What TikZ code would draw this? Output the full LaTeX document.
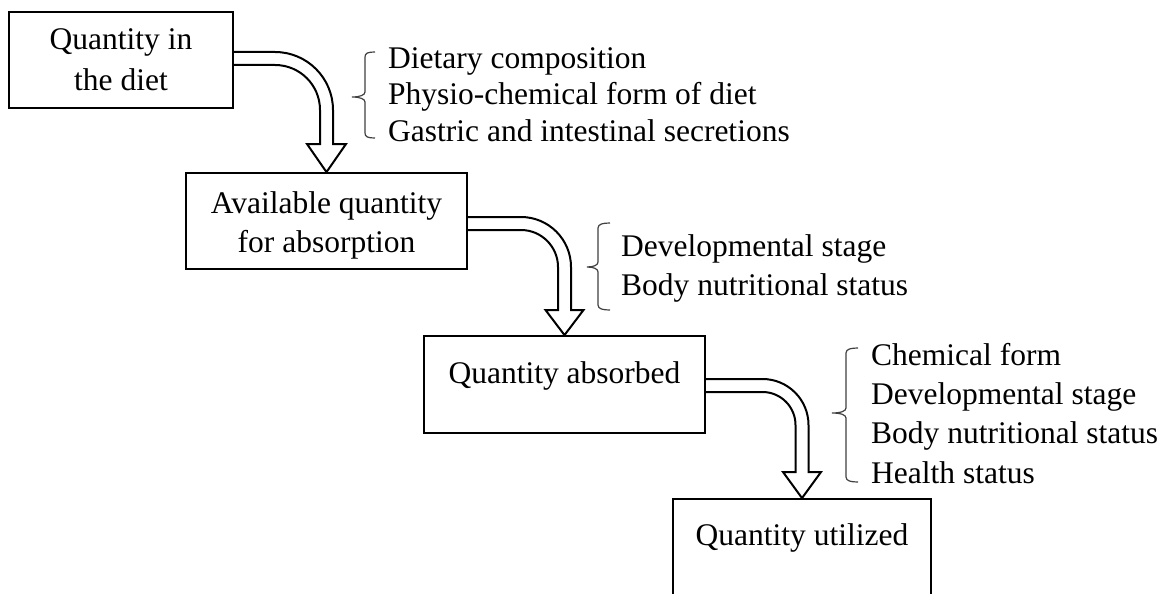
\documentclass[tikz,border=0pt]{standalone}
\usepackage{fontspec}
\setmainfont{Liberation Serif}
\begin{document}
\begin{tikzpicture}[x=1pt,y=-1pt,
  box/.style={draw=black,line width=1.8pt,inner sep=0pt},
  txt/.style={anchor=base,inner sep=0pt,font=\fontsize{31.5}{39}\selectfont},
  ltxt/.style={anchor=base west,inner sep=0pt,font=\fontsize{31.5}{39}\selectfont},
  harrow/.style={draw=black,line width=2pt,line join=miter},
  brc/.style={draw=black!75,line width=1.2pt}]
\fill[white] (0,0) rectangle (1175,594);
\useasboundingbox (0,0) rectangle (1175,594);
\clip (0,0) rectangle (1175,594);
% boxes
\node[box,minimum width=224pt,minimum height=96pt] (b1) at (121,60) {};
\node[box,minimum width=281pt,minimum height=96pt] (b2) at (326.5,221) {};
\node[box,minimum width=281pt,minimum height=97pt] (b3) at (564.5,384.5) {};
\node[box,minimum width=258pt,minimum height=141pt] (b4) at (802,569.5) {};
% box texts
\node[txt] (t1a) at (121,50) {Quantity in};
\node[txt] (t1b) at (121,90) {the diet};
\node[txt] (t2a) at (326.5,213) {Available quantity};
\node[txt] (t2b) at (326.5,252) {for absorption};
\node[txt] (t3) at (564.5,383) {Quantity absorbed};
\node[txt] (t4) at (802,545) {Quantity utilized};
% hollow arrows
\draw[harrow] (b1.east |- 0,52) -- (275,52) .. controls (307,52) and (333,78) .. (333,110)
  -- (333,144) -- (346,144) -- (b2.north) -- (307,144) -- (320,144) -- (320,110)
  .. controls (320,85.1) and (299.9,65) .. (275,65) -- (b1.east |- 0,65);
\draw[harrow] (b2.east |- 0,217) -- (521,217) .. controls (548.6,217) and (571,239.4) .. (571,267)
  -- (571,310) -- (583.5,310) -- (b3.north) -- (545.5,310) -- (558,310) -- (558,267)
  .. controls (558,246.6) and (541.4,230) .. (521,230) -- (b2.east |- 0,230);
\draw[harrow] (b3.east |- 0,379) -- (762.5,379) .. controls (787.9,379) and (808.5,399.6) .. (808.5,425)
  -- (808.5,472) -- (821,472) -- (b4.north) -- (783,472) -- (795.5,472) -- (795.5,425)
  .. controls (795.5,406.8) and (780.7,392) .. (762.5,392) -- (b3.east |- 0,392);
% braces
\draw[brc] (375,52) .. controls (368,52) and (365,53) .. (365,57) -- (365,92)
  .. controls (365,95) and (360,97) .. (352,97)
  .. controls (360,97) and (365,99) .. (365,102) -- (365,133)
  .. controls (365,137) and (368,138) .. (375,138);
\draw[brc] (610,223) .. controls (603,223) and (598,224) .. (598,228) -- (598,262)
  .. controls (598,265) and (594,267) .. (587,267)
  .. controls (594,267) and (598,269) .. (598,272) -- (598,305)
  .. controls (598,309) and (603,310) .. (610,310);
\draw[brc] (858,348) .. controls (851,348) and (846,349) .. (846,353) -- (846,408)
  .. controls (846,411) and (841,413) .. (832,413)
  .. controls (841,413) and (846,415) .. (846,418) -- (846,477)
  .. controls (846,481) and (851,482) .. (858,482);
% factor texts
\node[ltxt] (f1a) at (388,68) {Dietary composition};
\node[ltxt] (f1b) at (388,104) {Physio-chemical form of diet};
\node[ltxt] (f1c) at (388,141) {Gastric and intestinal secretions};
\node[ltxt] (f2a) at (621,256) {Developmental stage};
\node[ltxt] (f2b) at (621,295) {Body nutritional status};
\node[ltxt] (f3a) at (871,365) {Chemical form};
\node[ltxt] (f3b) at (871,404) {Developmental stage};
\node[ltxt] (f3c) at (871,443) {Body nutritional status};
\node[ltxt] (f3d) at (871,483) {Health status};
\end{tikzpicture}
\end{document}
